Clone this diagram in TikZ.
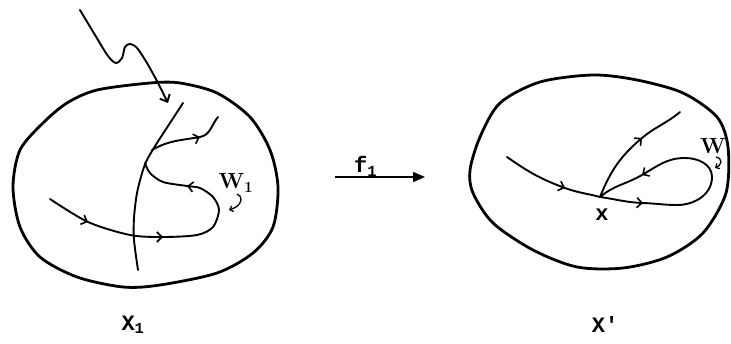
\documentclass[tikz,border=0pt]{standalone}
\usepackage{fontspec}
\setmonofont{Liberation Mono}
\usetikzlibrary{arrows.meta}
\begin{document}
\begin{tikzpicture}[x=1pt,y=1pt,
  rim/.style={line width=2.8pt, line join=round},
  curve/.style={line width=1.9pt, line cap=round},
  barb/.style={line width=1.6pt, -{Straight Barb[length=5pt,width=10pt]}},
  smallbarb/.style={line width=1.3pt, -{Straight Barb[length=3pt,width=6pt]}},
  lbl/.style={font=\fontsize{22}{24}\selectfont\ttfamily\bfseries, inner sep=0pt},
  hand/.style={font=\fontsize{22}{24}\selectfont\bfseries, inner sep=0pt},
]
\useasboundingbox (0,0) rectangle (731,343);
\newcommand\tipat[2]{\draw[barb] ([shift={(#2+180:4pt)}]#1) -- (#1);}

% ---------- left space X_1 ----------
\draw[rim] plot[smooth cycle] coordinates {(97,253) (150,260) (180,260) (217,250) (250,226) (270,193) (278,156) (273,116) (253,90) (217,70) (160,58) (123,56) (77,66) (40,86) (20,116) (13,156) (20,193) (43,220) (67,240)};

% incoming wavy arrow
\draw[curve, -{Straight Barb[length=6pt,width=11pt]}] plot[smooth] coordinates {(80,333) (95,308) (108,287) (116,280) (122,285) (125,296) (130,299) (137,295) (147,280) (158,260) (168,240)};

% main curve
\draw[curve] plot[smooth] coordinates {(183,240) (170,220) (157,200) (148,185) (143,173) (137,150) (134,125) (134,103) (138,73)};

% upper branch
\coordinate (lb0) at (152,193);
\coordinate (lb) at (200,206);
\coordinate (lb1) at (218,226);
\draw[curve] (lb0) to[out=30,in=190] (lb) to[out=10,in=230] (lb1);
\tipat{lb}{18}

% lower S curve
\coordinate (la1) at (88,121);
\coordinate (la2) at (163,106);
\coordinate (la3) at (187,157);
\draw[curve] plot[smooth] coordinates {(50,144) (88,121) (130,108) (163,106) (197,108) (213,116) (219,133) (213,146) (200,155) (187,157) (163,161) (150,170) (145,180)};
\tipat{la1}{-22}
\tipat{la2}{0}
\tipat{la3}{172}

\node[hand] (W1) at (236,160) {W\textsubscript{1}};
\coordinate (wc1) at (237,149);
\coordinate (wc2) at (241,143);
\coordinate (wc3) at (229,133);
\draw[smallbarb] (wc1) to[out=-20,in=80] (wc2) to[out=-100,in=20] (wc3);

\node[lbl] (X1) at (133,18) {X\textsubscript{1}};

% ---------- map f_1 ----------
\coordinate (fa) at (335,166);
\coordinate (fb) at (425,166);
\draw[line width=1.8pt, -{Triangle[length=12pt,width=10pt]}] (fa) -- (fb);
\node[lbl, anchor=base west] (f1) at (354,170) {f\textsubscript{1}};

% ---------- right space X' ----------
\draw[rim] plot[smooth cycle] coordinates {(470,173) (480,206) (500,240) (540,261) (593,268) (637,263) (683,250) (717,226) (728,196) (726,150) (703,110) (667,86) (623,75) (577,76) (533,93) (493,120) (473,150)};

\coordinate (x0) at (600,146);
% incoming
\coordinate (ra0) at (507,186);
\coordinate (ra1) at (565,155);
\draw[curve] (ra0) to[out=-35,in=160] (ra1) to[out=-20,in=165] (x0);
\tipat{ra1}{-20}
% loop
\coordinate (ra2) at (643,140);
\coordinate (ra3) at (642,168);
\coordinate (rr) at (712,166);
\draw[curve] (x0) to[out=-8,in=178] (ra2) to[out=-2,in=180] (677,138)
  to[out=0,in=-90] (rr) to[out=90,in=0] (685,185)
  to[out=180,in=30] (ra3) to[out=210,in=40] (x0);
\tipat{ra2}{-3}
\tipat{ra3}{212}
% upper branch
\coordinate (ra4) at (642,205);
\coordinate (ra5) at (680,231);
\draw[curve] (x0) to[out=68,in=220] (ra4) to[out=40,in=220] (ra5);
\tipat{ra4}{40}

\node[hand] (W) at (713,197) {W};
\coordinate (rw1) at (716,186);
\coordinate (rw2) at (721,181);
\coordinate (rw3) at (715,175);
\draw[smallbarb] (rw1) to[out=0,in=90] (rw2) to[out=-90,in=30] (rw3);

\node[lbl] (xl) at (602,128) {x};
\node[lbl] (Xp) at (605,18) {X'};
\end{tikzpicture}
\end{document}
